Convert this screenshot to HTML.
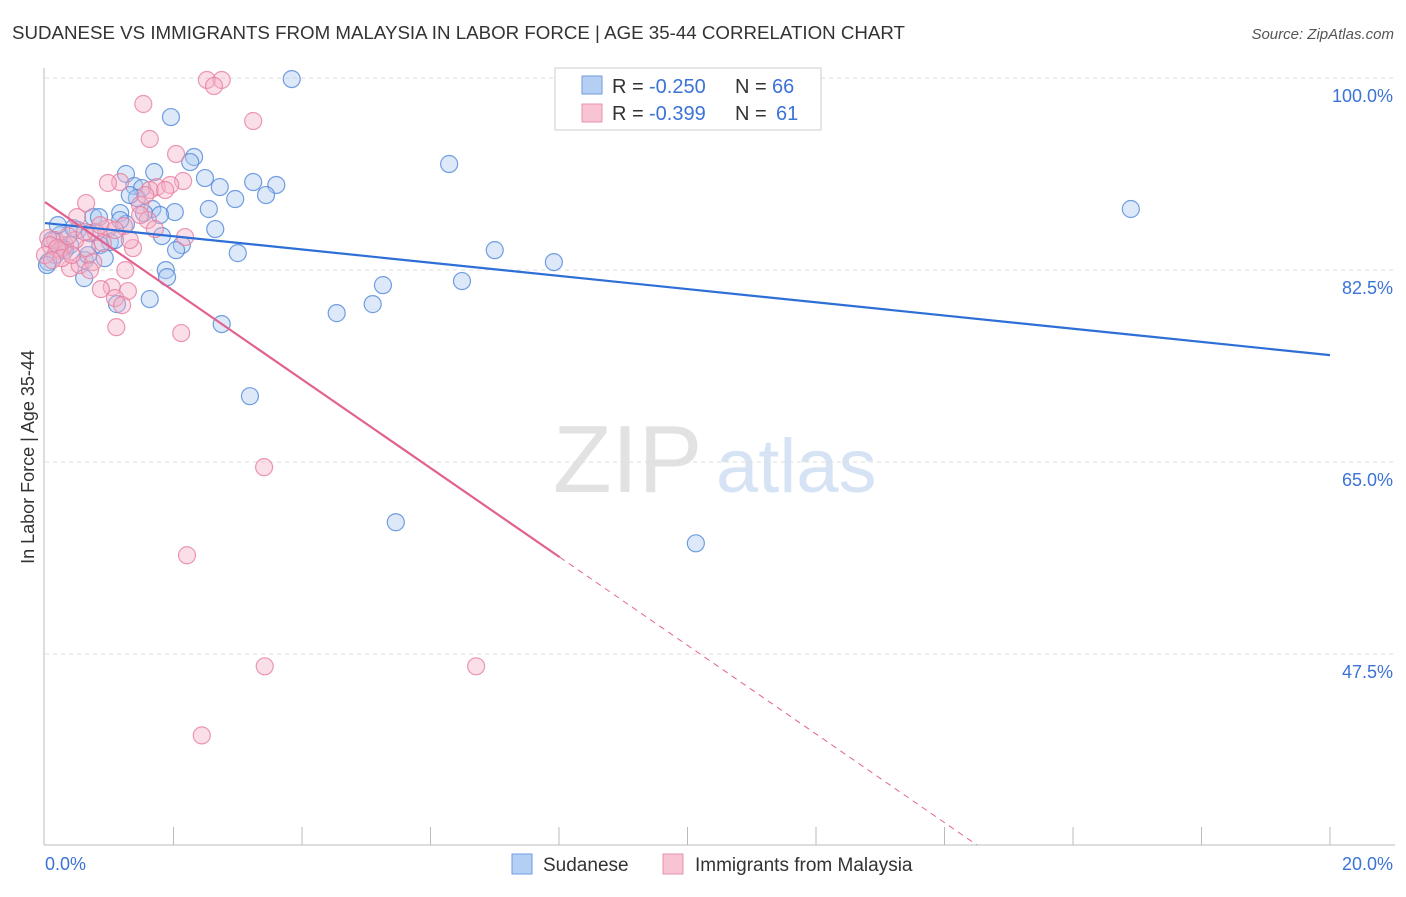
<!DOCTYPE html>
<html><head><meta charset="utf-8"><style>
body{margin:0;background:#fff;font-family:"Liberation Sans",sans-serif}
svg text{font-family:"Liberation Sans",sans-serif}
</style></head><body>
<svg id="chart" width="1406" height="892" viewBox="0 0 1406 892">
<text x="12" y="39" font-size="18" fill="#333" textLength="893" lengthAdjust="spacingAndGlyphs">SUDANESE VS IMMIGRANTS FROM MALAYSIA IN LABOR FORCE | AGE 35-44 CORRELATION CHART</text>
<text x="1394" y="39" font-size="15" fill="#555" font-style="italic" text-anchor="end">Source: ZipAtlas.com</text>
<g>
<text x="553" y="492" font-size="96" fill="#e2e2e2" font-family="Liberation Serif,serif">ZIP</text>
<text x="716" y="492" font-size="76" fill="#d6e3f5">atlas</text>
</g>
<g id="grid"></g>
<g id="axes"></g>
<g id="marks"></g>
<text transform="translate(34,457) rotate(-90)" font-size="18" fill="#333" text-anchor="middle">In Labor Force | Age 35-44</text>
<g>
<rect x="555" y="68" width="266" height="62" fill="#fff" stroke="#ccc"/>
<rect x="582" y="76" width="20" height="18" fill="#b4cff3" stroke="#6f9be0"/>
<rect x="582" y="104" width="20" height="18" fill="#f8c3d3" stroke="#ea93ae"/>
<text x="612" y="93" font-size="20" fill="#333">R =</text>
<text x="649" y="93" font-size="20" fill="#3b73d6">-0.250</text>
<text x="735" y="93" font-size="20" fill="#333">N =</text>
<text x="772" y="93" font-size="20" fill="#3b73d6">66</text>
<text x="612" y="120" font-size="20" fill="#333">R =</text>
<text x="649" y="120" font-size="20" fill="#3b73d6">-0.399</text>
<text x="735" y="120" font-size="20" fill="#333">N =</text>
<text x="776" y="120" font-size="20" fill="#3b73d6">61</text>
</g>
<g>
<rect x="512" y="854" width="20" height="20" fill="#b4cff3" stroke="#6f9be0"/>
<text x="543" y="871" font-size="19" fill="#333">Sudanese</text>
<rect x="663" y="854" width="20" height="20" fill="#f8c3d3" stroke="#ea93ae"/>
<text x="695" y="871" font-size="19" fill="#333">Immigrants from Malaysia</text>
</g>
</svg>
<script>
const xTickLabels=["0.0%","20.0%"];
const yTicks=[100,82.5,65,47.5];
const blueX=[3.84,1.96,6.29,2.32,2.26,1.70,1.26,2.49,2.72,3.24,3.60,3.44,2.96,1.39,1.51,1.43,16.90,2.02,2.55,1.67,1.17,1.54,0.75,0.84,1.26,2.65,1.82,2.13,2.04,7.00,3.00,7.92,1.01,0.86,0.93,0.51,0.23,0.11,0.39,0.16,0.05,0.28,0.70,1.88,1.90,0.61,6.49,5.26,1.63,1.12,5.10,4.54,2.75,3.19,5.46,10.13,0.44,0.62,0.31,0.03,0.20,0.67,1.32,1.09,1.17,1.79];
const blueY=[99.9,96.44,92.16,92.80,92.34,91.43,91.25,90.88,90.06,90.52,90.25,89.33,88.97,90.15,89.97,89.06,88.06,87.78,88.06,88.06,87.69,87.69,87.32,87.32,86.69,86.23,85.59,84.77,84.31,84.31,84.04,83.22,85.05,84.77,83.58,86.14,85.68,85.23,84.77,83.86,83.22,84.50,85.86,82.49,81.85,81.76,81.49,81.12,79.85,79.39,79.39,78.57,77.57,71.00,59.51,57.59,86.32,83.40,84.31,82.95,86.59,83.86,89.33,85.23,87.05,87.51];
const pinkX=[2.52,2.75,2.63,1.53,3.24,1.63,2.04,2.15,1.17,1.74,1.95,1.63,0.98,0.64,1.48,0.50,1.60,1.71,2.18,0.98,0.79,1.23,0.90,1.37,0.65,0.31,0.16,0.05,0.23,0.39,0.54,0.75,1.25,1.04,0.87,1.29,1.09,1.20,1.11,2.12,3.41,2.21,3.42,6.71,2.44,0.08,0.19,0.0,0.47,0.62,0.86,0.36,0.26,1.09,1.32,0.70,0.42,0.11,1.48,1.56,1.87];
const pinkY=[99.82,99.82,99.27,97.63,96.08,94.44,93.07,90.61,90.52,90.06,90.25,89.79,90.43,88.60,88.42,87.32,87.05,86.23,85.50,86.32,85.96,86.50,84.95,84.50,84.50,84.77,85.23,85.41,84.31,82.67,82.95,83.22,82.49,80.94,80.76,80.58,79.94,79.30,77.29,76.75,64.53,56.50,46.38,46.38,40.08,84.77,84.50,83.86,85.23,85.96,86.59,85.59,83.58,86.14,85.23,82.49,83.86,83.40,87.51,89.33,89.79];
const blueTrend=[86.78,74.74];
const pinkTrend=[88.69,-4.04];
const NS="http://www.w3.org/2000/svg";
const X=v=>45+v/20*1285;
const Y=v=>78+(100-v)/17.5*192;
function mk(tag,attrs,parent){const e=document.createElementNS(NS,tag);for(const k in attrs)e.setAttribute(k,attrs[k]);parent.appendChild(e);return e;}
const grid=document.getElementById('grid'),axes=document.getElementById('axes'),marks=document.getElementById('marks');
yTicks.forEach(t=>{
 const l=mk('line',{x1:45,x2:1395,y1:Y(t),y2:Y(t),stroke:'#ddd','stroke-dasharray':'4,4'},grid);
 
 
 const tx=mk('text',{x:1393,y:Y(t)+24,'font-size':18,fill:'#3b73d6','text-anchor':'end'},axes);
 tx.textContent=t.toFixed(1)+'%';
 
 
});
mk('line',{x1:44,x2:44,y1:68,y2:845,stroke:'#bbb'},axes);
const xa=mk('line',{x1:44,x2:1395,y1:845,y2:845,stroke:'#bbb'},axes);


for(let i=1;i<=10;i++){mk('line',{x1:X(i*2),x2:X(i*2),y1:827,y2:845,stroke:'#bbb'},axes);}
const xl0=mk('text',{x:45,y:870,'font-size':18,fill:'#3b73d6'},axes);xl0.textContent=xTickLabels[0];


const xl1=mk('text',{x:1393,y:870,'font-size':18,fill:'#3b73d6','text-anchor':'end'},axes);xl1.textContent=xTickLabels[1];


function pts(xs,ys,fill,stroke,name){xs.forEach((x,i)=>{const c=mk('circle',{cx:X(x),cy:Y(ys[i]),r:8.5,fill:fill,'fill-opacity':0.4,stroke:stroke,'stroke-opacity':0.8,'stroke-width':1.2},marks);
 
 });}
pts(blueX,blueY,'#a9c8f0','#4f87d8','sudanese-point');
pts(pinkX,pinkY,'#f5b0c5','#e67fa0','malaysia-point');
const bl=mk('line',{x1:X(0),y1:Y(blueTrend[0]),x2:X(20),y2:Y(blueTrend[1]),stroke:'#2d6fd6','stroke-width':2.2},marks);


const pe=8.01, pend=(30.1-pinkTrend[0])/pinkTrend[1];
const pl=mk('line',{x1:X(0),y1:Y(pinkTrend[0]),x2:X(pe),y2:Y(pinkTrend[0]+pinkTrend[1]*pe),stroke:'#e2628f','stroke-width':2.2},marks);


const pd=mk('line',{x1:X(pe),y1:Y(pinkTrend[0]+pinkTrend[1]*pe),x2:X(pend),y2:Y(pinkTrend[0]+pinkTrend[1]*pend),stroke:'#e2628f','stroke-width':1,'stroke-dasharray':'6,5'},marks);


</script>
</body></html>
